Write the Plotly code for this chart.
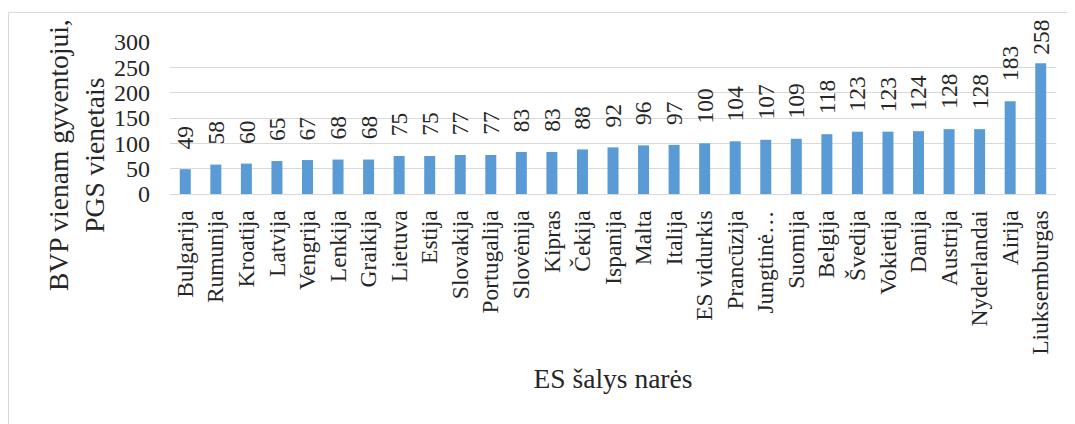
import plotly.graph_objs as go

countries = [
    "Bulgarija", "Rumunija", "Kroatija", "Latvija", "Vengrija", "Lenkija",
    "Graikija", "Lietuva", "Estija", "Slovakija", "Portugalija", "Slovėnija",
    "Kipras", "Čekija", "Ispanija", "Malta", "Italija", "ES vidurkis",
    "Prancūzija", "Jungtinė…", "Suomija", "Belgija", "Švedija", "Vokietija",
    "Danija", "Austrija", "Nyderlandai", "Airija", "Liuksemburgas",
]
gdp_pps = [
    49, 58, 60, 65, 67, 68, 68, 75, 75, 77, 77, 83, 83, 88, 92, 96, 97, 100,
    104, 107, 109, 118, 123, 123, 124, 128, 128, 183, 258,
]
y_ticks = [0, 50, 100, 150, 200, 250, 300]

serif = "Liberation Serif, Times New Roman, serif"
text_color = "#262626"

# page body adds an 8px offset, so the figure is a bit smaller than the window
W, H = 1067, 416
L, T, PW, PH = 162, 34, 886, 152
Y_MAX = 300


def px(x):
    return (x - L) / PW


def py(y):
    return (T + PH - y) / PH


bars = go.Bar(
    x=countries,
    y=gdp_pps,
    marker=dict(color="#5B9BD5", line=dict(width=0)),
    width=0.36,
    cliponaxis=False,
    hovertemplate="%{x}: %{y}<extra></extra>",
)

# data labels like Excel: rotated, sitting well above the bar end,
# pushed down a little when they would run out of the chart at the top
labels = []
for name, v in zip(countries, gdp_pps):
    room = T + (Y_MAX - v) * PH / Y_MAX - 14 - 11.5 * len(str(v))
    labels.append(dict(
        x=name, y=v, xref="x", yref="y",
        text=str(v),
        textangle=-90,
        xanchor="center", yanchor="bottom",
        yshift=min(18, room),
        showarrow=False,
        font=dict(family=serif, size=23.5, color=text_color),
    ))

labels.append(dict(
    text="BVP vienam gyventojui,<br>PGS vienetais",
    xref="paper", yref="paper",
    x=px(68), y=py(147),
    xanchor="center", yanchor="middle",
    textangle=-90,
    showarrow=False,
    font=dict(family=serif, size=27.5, color=text_color),
))

layout = go.Layout(
    width=W,
    height=H,
    margin=dict(l=L, r=W - L - PW, t=T, b=H - T - PH),
    plot_bgcolor="white",
    paper_bgcolor="white",
    showlegend=False,
    font=dict(family=serif, color=text_color),
    xaxis=dict(
        automargin=False,
        tickangle=-90,
        tickfont=dict(family=serif, size=23.5),
        showline=True,
        linecolor="#D9D9D9",
        linewidth=1,
        ticks="",
        ticklabelstandoff=6,
        title=dict(text="ES šalys narės", font=dict(family=serif, size=27.5), standoff=14),
    ),
    yaxis=dict(
        automargin=False,
        range=[0, Y_MAX],
        tickvals=y_ticks,
        tickfont=dict(family=serif, size=24),
        showgrid=True,
        gridcolor="#D9D9D9",
        gridwidth=1,
        zeroline=False,
        ticks="",
        ticklabelstandoff=19,
    ),
    annotations=labels,
    shapes=[
        dict(
            type="rect",
            xref="paper", yref="paper",
            x0=px(0.5), x1=px(W + 10),
            y0=py(H + 10), y1=py(4.5),
            line=dict(color="#D9D9D9", width=1),
            layer="below",
        )
    ],
)

fig = go.Figure(data=[bars], layout=layout)
fig.write_html("out.html")
